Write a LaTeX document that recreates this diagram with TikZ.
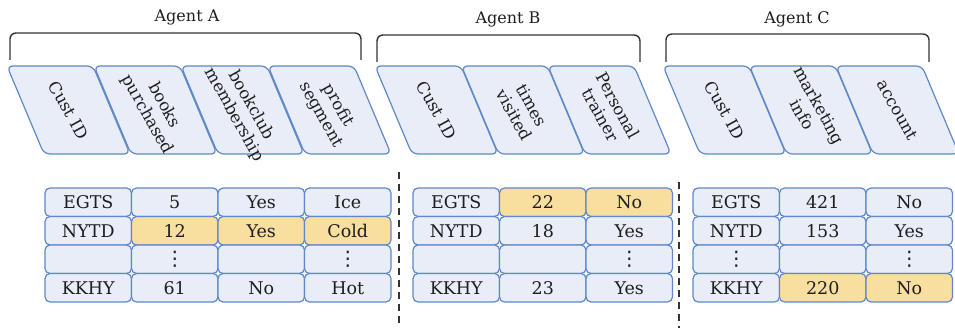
\documentclass[tikz,border=0pt]{standalone}
\usepackage{fontspec}
\setmainfont{DejaVu Serif}
\newfontfamily\dotsfont{DejaVu Sans}
\definecolor{cellblue}{HTML}{5F88C8}
\definecolor{cellfill}{HTML}{E8EDF7}
\definecolor{hotfill}{HTML}{F8DFA0}
\definecolor{ink}{HTML}{1E1E1E}
\definecolor{bracketgray}{HTML}{333333}
\newcommand\colfield[3]{%
  \draw[field] (#2,66) -- (#2+86,66) -- (#2+123,154) -- (#2+37,154) -- cycle;
  \node[fieldtext] (#1) at (#2+61.5,110) {#3};}
\newcommand\vdotsx{{\dotsfont\fontsize{20}{20}\selectfont ⋮}}
\begin{document}
\begin{tikzpicture}[x=1pt,y=-1pt,
  field/.style={draw=cellblue, fill=cellfill, line width=1.2pt, rounded corners=6pt},
  fieldtext/.style={rotate=-61, align=center, text=ink, font=\fontsize{16.5}{19.5}\selectfont},
  cell/.style={draw=cellblue, fill=cellfill, line width=1.2pt, rounded corners=5pt,
    minimum width=86.5pt, minimum height=28.5pt, inner sep=0pt, outer sep=0pt,
    text=ink, font=\fontsize{17.5}{20}\selectfont},
  hot/.style={cell, fill=hotfill},
  bracket/.style={draw=bracketgray, line width=1.4pt, rounded corners=6pt},
  agentlabel/.style={anchor=base, text=ink, font=\fontsize{16}{19}\selectfont},
  divider/.style={draw=bracketgray, line width=1.8pt, dash pattern=on 7pt off 5pt}]
\useasboundingbox (0,0) rectangle (955,328);

% agent titles and brackets
\node[agentlabel] (labA) at (187,21.5) {Agent A};
\node[agentlabel] (labB) at (508,24) {Agent B};
\node[agentlabel] (labC) at (797,24) {Agent C};
\draw[bracket] (10,60) -- (10,33) -- (361,33) -- (361,60);
\draw[bracket] (377,62) -- (377,35) -- (640,35) -- (640,62);
\draw[bracket] (666,62) -- (666,34) -- (929,34) -- (929,62);

% slanted column headers
\colfield{fa1}{7}{Cust ID}
\colfield{fa2}{94}{books\\purchased}
\colfield{fa3}{181}{bookclub\\membership}
\colfield{fa4}{268}{profit\\segment}
\colfield{fb1}{375}{Cust ID}
\colfield{fb2}{461.5}{times\\visited}
\colfield{fb3}{548}{Personal\\trainer}
\colfield{fc1}{663}{Cust ID}
\colfield{fc2}{749.5}{marketing\\info}
\colfield{fc3}{836}{account}

% table of agent A
\node[cell] (a11) at (88.25,202.25) {EGTS};
\node[cell] (a12) at (174.75,202.25) {5};
\node[cell] (a13) at (261.25,202.25) {Yes};
\node[cell] (a14) at (347.75,202.25) {Ice};
\node[cell] (a21) at (88.25,230.75) {NYTD};
\node[hot]  (a22) at (174.75,230.75) {12};
\node[hot]  (a23) at (261.25,230.75) {Yes};
\node[hot]  (a24) at (347.75,230.75) {Cold};
\node[cell] (a31) at (88.25,259.25) {};
\node[cell] (a32) at (174.75,259.25) {\vdotsx};
\node[cell] (a33) at (261.25,259.25) {};
\node[cell] (a34) at (347.75,259.25) {\vdotsx};
\node[cell] (a41) at (88.25,287.75) {KKHY};
\node[cell] (a42) at (174.75,287.75) {61};
\node[cell] (a43) at (261.25,287.75) {No};
\node[cell] (a44) at (347.75,287.75) {Hot};

% table of agent B
\node[cell] (b11) at (456.25,202.25) {EGTS};
\node[hot]  (b12) at (542.75,202.25) {22};
\node[hot]  (b13) at (629.25,202.25) {No};
\node[cell] (b21) at (456.25,230.75) {NYTD};
\node[cell] (b22) at (542.75,230.75) {18};
\node[cell] (b23) at (629.25,230.75) {Yes};
\node[cell] (b31) at (456.25,259.25) {};
\node[cell] (b32) at (542.75,259.25) {};
\node[cell] (b33) at (629.25,259.25) {\vdotsx};
\node[cell] (b41) at (456.25,287.75) {KKHY};
\node[cell] (b42) at (542.75,287.75) {23};
\node[cell] (b43) at (629.25,287.75) {Yes};

% table of agent C
\node[cell] (c11) at (736.25,202.25) {EGTS};
\node[cell] (c12) at (822.75,202.25) {421};
\node[cell] (c13) at (909.25,202.25) {No};
\node[cell] (c21) at (736.25,230.75) {NYTD};
\node[cell] (c22) at (822.75,230.75) {153};
\node[cell] (c23) at (909.25,230.75) {Yes};
\node[cell] (c31) at (736.25,259.25) {\vdotsx};
\node[cell] (c32) at (822.75,259.25) {};
\node[cell] (c33) at (909.25,259.25) {\vdotsx};
\node[cell] (c41) at (736.25,287.75) {KKHY};
\node[hot]  (c42) at (822.75,287.75) {220};
\node[hot]  (c43) at (909.25,287.75) {No};

% dashed separators between the agents
\coordinate (sepAtop) at (399,172);
\coordinate (sepAbot) at (399,328);
\coordinate (sepBtop) at (679,182);
\coordinate (sepBbot) at (679,328);
\draw[divider] (sepAtop) -- (sepAbot);
\draw[divider] (sepBtop) -- (sepBbot);
\end{tikzpicture}
\end{document}
